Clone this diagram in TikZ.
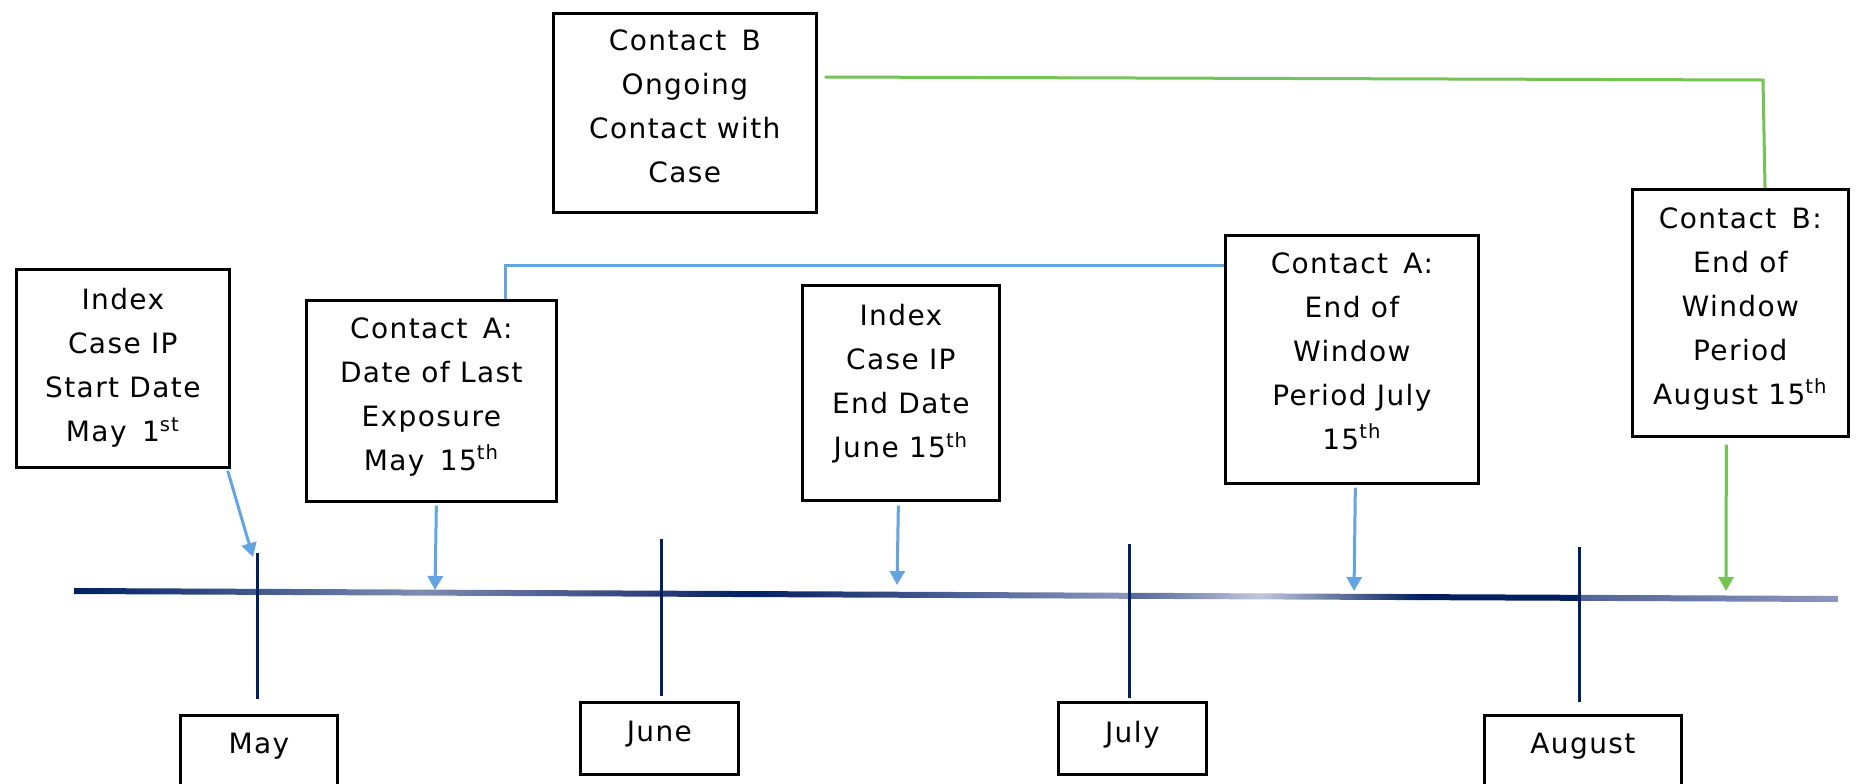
\documentclass[tikz,border=0pt]{standalone}
\usepackage{fontspec}
\setmainfont{DejaVu Sans}[LetterSpace=5.0]
\usetikzlibrary{arrows.meta,calc}
\definecolor{navy}{RGB}{0,32,96}
\definecolor{tlmid}{RGB}{125,140,180}
\definecolor{tldk}{RGB}{40,60,120}
\definecolor{tllt}{RGB}{190,198,220}
\definecolor{tlmd}{RGB}{80,100,150}
\definecolor{tlgr}{RGB}{140,150,190}
\definecolor{aBlue}{RGB}{100,165,225}
\definecolor{aGreen}{RGB}{115,195,85}
\newcommand\dsp{\hspace{0.55em}}
\begin{document}
\begin{tikzpicture}[x=0.5pt,y=-0.5pt,
  box/.style={draw=black,line width=1.35pt,fill=white,anchor=north west,inner sep=0pt},
  txt/.style={font=\fontsize{14pt}{22pt}\selectfont,align=center,inner sep=0pt,anchor=north},
  monthtick/.style={draw=navy,line width=1.3pt},
  barrow/.style={draw=aBlue,line width=1.5pt,-{Triangle[length=7pt,width=7.5pt]}},
  garrow/.style={draw=aGreen,line width=1.5pt,-{Triangle[length=7pt,width=7.5pt]}},
  bline/.style={draw=aBlue,line width=1.5pt},
  gline/.style={draw=aGreen,line width=1.5pt}]
\useasboundingbox (0,0) rectangle (1868,783);
\fill[white] (0,0) rectangle (1868,783);

% timeline (gradient segments)
\begin{scope}[rotate around={-0.26:(74,591)}]
  \shade[left color=navy,right color=tlmid] (74,588) rectangle (420,594);
  \shade[left color=tlmid,right color=tldk] (420,588) rectangle (660,594);
  \shade[left color=tldk,right color=navy] (660,588) rectangle (750,594);
  \shade[left color=navy,right color=tlgr] (750,588) rectangle (1128,594);
  \shade[left color=tlmd,right color=tllt] (1128,588) rectangle (1260,594);
  \shade[left color=tllt,right color=navy] (1260,588) rectangle (1420,594);
  \fill[navy] (1420,588) rectangle (1578,594);
  \shade[left color=tlmd,right color=tlgr] (1578,588) rectangle (1838,594);
\end{scope}

% boxes
\node[box,minimum width=106.5pt,minimum height=99pt] (is) at (15,268) {};
\node[box,minimum width=125pt,minimum height=100.5pt] (adle) at (305,299) {};
\node[box,minimum width=131.5pt,minimum height=99.5pt] (bon) at (552,12) {};
\node[box,minimum width=98.5pt,minimum height=107.5pt] (ie) at (801,284) {};
\node[box,minimum width=126.5pt,minimum height=124pt] (aeow) at (1224,234) {};
\node[box,minimum width=108pt,minimum height=123.5pt] (beow) at (1631,188) {};
\node[box,minimum width=78.5pt,minimum height=73pt] (may) at (179,714) {};
\node[box,minimum width=79pt,minimum height=36pt] (june) at (579,701) {};
\node[box,minimum width=74pt,minimum height=36pt] (july) at (1057,701) {};
\node[box,minimum width=98.5pt,minimum height=73pt] (aug) at (1483,714) {};

% texts
\node[txt] (is-t) at ($(is.north)+(0,20)$) {Index\\Case IP\\Start Date\\May\dsp 1\textsuperscript{st}};
\node[txt] (adle-t) at ($(adle.north)+(0,18)$) {Contact\dsp A:\\Date of Last\\Exposure\\May\dsp 15\textsuperscript{th}};
\node[txt] (bon-t) at ($(bon.north)+(0,17)$) {Contact\dsp B\\Ongoing\\Contact with\\Case};
\node[txt] (ie-t) at ($(ie.north)+(0,20)$) {Index\\Case IP\\End Date\\June 15\textsuperscript{th}};
\node[txt] (aeow-t) at ($(aeow.north)+(0,18)$) {Contact\dsp A:\\End of\\Window\\Period July\\15\textsuperscript{th}};
\node[txt] (beow-t) at ($(beow.north)+(0,19)$) {Contact\dsp B:\\End of\\Window\\Period\\August 15\textsuperscript{th}};
\node[txt] (may-t) at ($(may.north)+(0,19)$) {May};
\node[txt] (june-t) at ($(june.north)+(0,20)$) {June};
\node[txt] (july-t) at ($(july.north)+(0,20)$) {July};
\node[txt] (aug-t) at ($(aug.north)+(0,19)$) {August};

% month ticks
\draw[monthtick] ($(may.north)+(-1.5,-15)$) -- ++(0,-146);
\draw[monthtick] ($(june.north)+(2,-5)$) -- ++(0,-157);
\draw[monthtick] ($(july.north)+(-3,-3)$) -- ++(0,-154);
\draw[monthtick] ($(aug.north)+(-3.5,-12)$) -- ++(0,-155);

% arrow end points on the timeline
\coordinate (t1) at (253,557);
\coordinate (t2) at (435,590);
\coordinate (t3) at (897,585);
\coordinate (t4) at (1354,591);
\coordinate (t5) at (1726,591);

\draw[barrow] ($(is.south east)+(-3,2)$) -- (t1);
\draw[barrow] ($(adle.south)+(5,3)$) -- (t2);
\draw[barrow] ($(ie.south)+(-2.5,4)$) -- (t3);
\draw[barrow] ($(aeow.south)+(3.5,3)$) -- (t4);
\draw[garrow] ($(beow.south)+(-14,7)$) -- (t5);

% connectors between boxes
\draw[bline] ($(adle.north west)+(200,0)$) |- ($(aeow.north west)+(0,31)$);
\draw[gline] ($(bon.north east)+(7,65)$) -- ($(beow.north west)+(132,-108)$) -- ($(beow.north west)+(134,0)$);
\end{tikzpicture}
\end{document}
